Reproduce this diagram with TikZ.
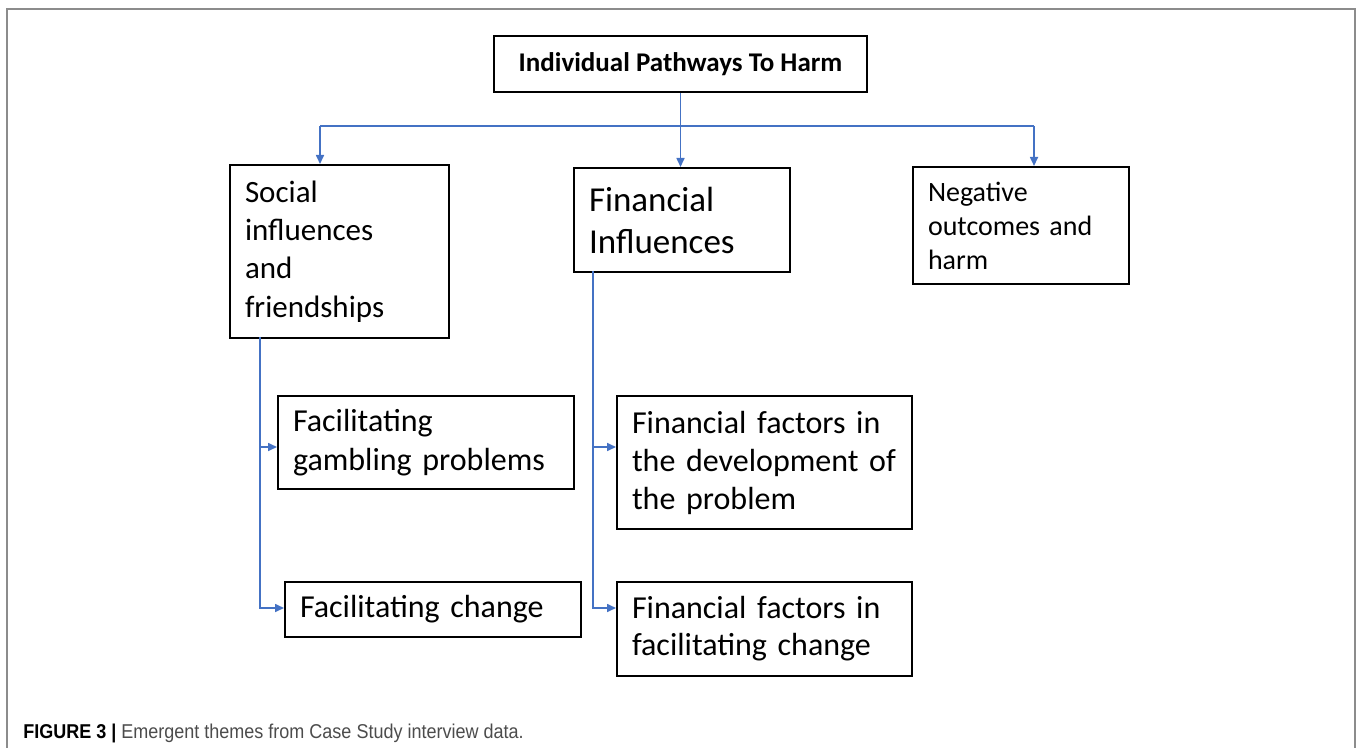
\documentclass[tikz,border=0pt]{standalone}
\usepackage{fontspec}
\setmainfont{Carlito}
\newfontfamily\capfont[FakeStretch=0.9]{Liberation Sans}
\usetikzlibrary{arrows.meta}
\definecolor{linkblue}{RGB}{68,114,196}
\definecolor{framegray}{RGB}{140,140,140}

\begin{document}
\begin{tikzpicture}[x=0.5pt,y=-0.5pt]
\tikzstyle{theme}=[rectangle,draw=black,line width=1pt,anchor=north west,align=left,inner xsep=7.5pt,inner ysep=0pt]
\tikzstyle{head}=[theme,align=center,font=\bfseries\fontsize{13.5}{16}\selectfont]
\tikzstyle{link}=[draw=linkblue,line width=0.8pt]
\tikzstyle{arr}=[link,-{Triangle[length=4.5pt,width=4pt]}]
\useasboundingbox (0,0) rectangle (1358,748);
\draw [framegray,line width=1pt] (7,748) -- (7,9) -- (1355,9) -- (1355,748);
\node [head,minimum width=186.5pt,minimum height=28pt] (title) at (493,35) {Individual Pathways To Harm};
\node [theme,text width=94.5pt,minimum height=86.5pt,font=\fontsize{15.5}{19.2}\selectfont] (soc) at (229,164) {Social\\influences\\and\\friendships};
\node [theme,text width=93pt,minimum height=52pt,font=\fontsize{17.5}{21}\selectfont] (fin) at (573,167) {Financial\\Influences};
\node [theme,text width=93pt,minimum height=58.5pt,font=\fontsize{14}{17}\selectfont] (neg) at (912,166) {Negative\\outcomes~and\\harm};
\node [theme,text width=133pt,minimum height=46.5pt,font=\fontsize{16}{19.5}\selectfont] (gamb) at (277,395) {Facilitating\\gambling~problems};
\node [theme,text width=133pt,minimum height=27.5pt,font=\fontsize{16}{19.5}\selectfont] (chg) at (284,581) {Facilitating~change};
\node [theme,text width=132.5pt,minimum height=66.5pt,font=\fontsize{16}{19}\selectfont] (fdev) at (616,395) {Financial~factors~in\\the~development~of\\the~problem};
\node [theme,text width=132.5pt,minimum height=47pt,font=\fontsize{16}{18.5}\selectfont] (fchg) at (616,581) {Financial~factors~in\\facilitating~change};
\node [anchor=base west,inner sep=0pt,font=\capfont\fontsize{10}{12}\selectfont] (cap) at (23,738) {\textbf{FIGURE 3 |} \color{black!70}Emergent themes from Case Study interview data.};
\coordinate (busl) at (320,126);
\coordinate (busr) at (1034,126);
\coordinate (sdrop) at (260,337);
\coordinate (fdrop) at (593,271);
\coordinate (row1) at (0,447);
\coordinate (row2) at (0,608);
\draw [arr] (title.south) -- (title.south |- fin.north);
\draw [link] (busl) -- (busr);
\draw [arr] (busl) -- (busl |- soc.north);
\draw [arr] (busr) -- (busr |- neg.north);
\draw [arr] (sdrop) |- (row1 -| gamb.west);
\draw [arr] (sdrop) |- (row2 -| chg.west);
\draw [arr] (fdrop) |- (row1 -| fdev.west);
\draw [arr] (fdrop) |- (row2 -| fchg.west);
\end{tikzpicture}
\end{document}
